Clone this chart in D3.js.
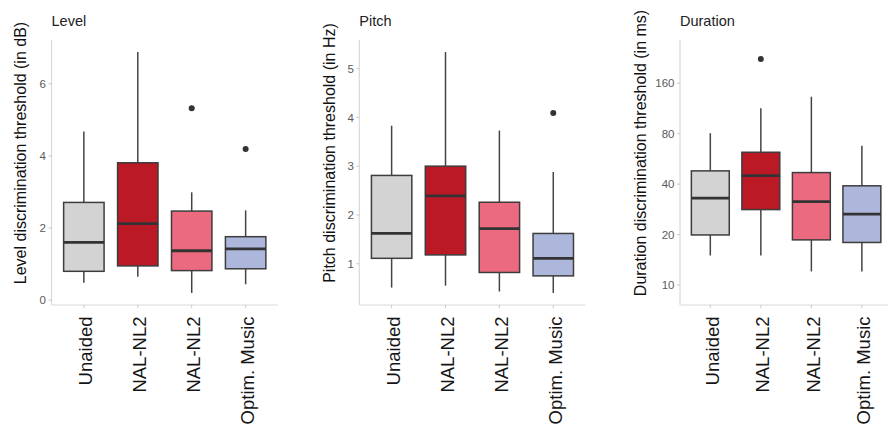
<!DOCTYPE html>
<html>
<head>
<meta charset="utf-8">
<script src="https://cdn.jsdelivr.net/npm/d3@7"></script>
<style>
  html, body { margin: 0; padding: 0; background: #ffffff; }
  svg { display: block; font-family: "Liberation Sans", Arial, Helvetica, sans-serif; }
</style>
</head>
<body>
<svg id="chart" width="888" height="425"></svg>
<script>
// Hearing-aid fitting conditions (x categories)
const conditions = ["Unaided", "NAL-NL2", "NAL-NL2", "Optim. Music"];
const fillColors = ["#d3d3d3", "#bb1926", "#ec6a80", "#adb7dc"];

// Box statistics per condition: [lower whisker, Q1, median, Q3, upper whisker]
const levelStats = [
  [0.48, 0.80, 1.60, 2.71, 4.68],
  [0.65, 0.95, 2.12, 3.81, 6.88],
  [0.20, 0.82, 1.37, 2.47, 2.99],
  [0.44, 0.87, 1.42, 1.76, 2.49]
];
const levelOutliers = [[], [], [5.32], [4.19]];
const levelTicks = [0, 2, 4, 6];

const pitchStats = [
  [0.51, 1.11, 1.62, 2.81, 3.83],
  [0.55, 1.18, 2.39, 3.00, 5.34],
  [0.43, 0.82, 1.72, 2.26, 3.73],
  [0.40, 0.75, 1.11, 1.62, 2.88]
];
const pitchOutliers = [[], [], [], [4.09]];
const pitchTicks = [1, 2, 3, 4, 5];

const durationStats = [
  [15.0, 19.9, 33.0, 48.0, 80.6],
  [15.0, 28.2, 45.0, 62.0, 113.5],
  [12.05, 18.6, 31.5, 46.9, 133.0],
  [12.05, 17.95, 26.5, 39.1, 67.7]
];
const durationOutliers = [[], [223], [], []];
const durationTicks = [10, 20, 40, 80, 160];
const durationDomain = [7.6, 290];

const svg = d3.select("#chart");
const panelTop = 40, panelBottom = 305;

function padded(stats, outliers) {
  const vals = stats.flat().concat(outliers.flat());
  const lo = d3.min(vals), hi = d3.max(vals), r = hi - lo;
  return [lo - 0.05 * r, hi + 0.05 * r];
}

function drawPanel(cfg) {
  const g = svg.append("g");
  const x = d3.scaleBand()
    .domain(d3.range(conditions.length))
    .range([cfg.x0, cfg.x1])
    .paddingInner(0)
    .paddingOuter(0.1);
  const y = cfg.y;
  const bw = x.step() * 0.75;

  // axis lines
  g.append("line").attr("x1", cfg.x0).attr("x2", cfg.x0)
    .attr("y1", panelTop).attr("y2", panelBottom)
    .attr("stroke", "#d9d9d9").attr("stroke-width", 1.2);
  g.append("line").attr("x1", cfg.x0).attr("x2", cfg.x1)
    .attr("y1", panelBottom).attr("y2", panelBottom)
    .attr("stroke", "#d9d9d9").attr("stroke-width", 1.2);

  // y ticks
  const yt = g.selectAll(".yt").data(cfg.ticks).enter().append("g");
  yt.append("line")
    .attr("x1", cfg.x0 - 3).attr("x2", cfg.x0)
    .attr("y1", d => y(d)).attr("y2", d => y(d))
    .attr("stroke", "#c8c8c8").attr("stroke-width", 1);
  yt.append("text")
    .attr("x", cfg.x0 - 5.5).attr("y", d => y(d)).attr("dy", "0.36em")
    .attr("text-anchor", "end")
    .attr("font-size", 11.5).attr("fill", "#5a5a5a")
    .text(d => d);

  // x ticks and rotated labels
  const cx = i => x(i) + x.bandwidth() / 2;
  const xt = g.selectAll(".xt").data(conditions).enter().append("g");
  xt.append("line")
    .attr("x1", (d, i) => cx(i)).attr("x2", (d, i) => cx(i))
    .attr("y1", panelBottom).attr("y2", panelBottom + 3)
    .attr("stroke", "#c8c8c8").attr("stroke-width", 1);
  xt.append("text")
    .attr("transform", (d, i) => `translate(${cx(i)},316.5) rotate(-90)`)
    .attr("dy", "0.46em")
    .attr("text-anchor", "end")
    .attr("font-size", 18.5).attr("fill", "#151515")
    .text(d => d);

  // whiskers
  cfg.stats.forEach((s, i) => {
    const c = cx(i);
    g.append("line").attr("x1", c).attr("x2", c)
      .attr("y1", y(s[0])).attr("y2", y(s[1]))
      .attr("stroke", "#444444").attr("stroke-width", 1.5);
    g.append("line").attr("x1", c).attr("x2", c)
      .attr("y1", y(s[3])).attr("y2", y(s[4]))
      .attr("stroke", "#444444").attr("stroke-width", 1.5);
  });

  // boxes
  g.selectAll(".box").data(cfg.stats).enter().append("rect")
    .attr("x", (d, i) => cx(i) - bw / 2)
    .attr("width", bw)
    .attr("y", d => y(d[3]))
    .attr("height", d => y(d[1]) - y(d[3]))
    .attr("fill", (d, i) => fillColors[i])
    .attr("stroke", "#3d3d3d").attr("stroke-width", 1.5);

  // medians
  g.selectAll(".med").data(cfg.stats).enter().append("line")
    .attr("x1", (d, i) => cx(i) - bw / 2).attr("x2", (d, i) => cx(i) + bw / 2)
    .attr("y1", d => y(d[2])).attr("y2", d => y(d[2]))
    .attr("stroke", "#333333").attr("stroke-width", 2.8);

  // outliers
  cfg.outliers.forEach((arr, i) => {
    arr.forEach(v => {
      g.append("circle").attr("cx", cx(i)).attr("cy", y(v)).attr("r", 3)
        .attr("fill", "#333333");
    });
  });

  // panel title
  g.append("text").attr("x", cfg.x0).attr("y", 26)
    .attr("font-size", 14.5).attr("fill", "#222222")
    .text(cfg.title);

  // y-axis title
  g.append("text")
    .attr("transform", `translate(${cfg.ytx},153) rotate(-90)`)
    .attr("dy", "0.36em")
    .attr("text-anchor", "middle")
    .attr("font-size", 16).attr("fill", "#111111")
    .text(cfg.ytitle);
}

drawPanel({
  title: "Level",
  ytitle: "Level discrimination threshold (in dB)",
  x0: 51.5, x1: 278, ytx: 20,
  y: d3.scaleLinear().domain(padded(levelStats, levelOutliers)).range([panelBottom, panelTop]),
  ticks: levelTicks, stats: levelStats, outliers: levelOutliers
});

drawPanel({
  title: "Pitch",
  ytitle: "Pitch discrimination threshold (in Hz)",
  x0: 359.3, x1: 585.6, ytx: 329,
  y: d3.scaleLinear().domain(padded(pitchStats, pitchOutliers)).range([panelBottom, panelTop]),
  ticks: pitchTicks, stats: pitchStats, outliers: pitchOutliers
});

drawPanel({
  title: "Duration",
  ytitle: "Duration discrimination threshold (in ms)",
  x0: 680, x1: 892.2, ytx: 640,
  y: d3.scaleLog().base(2).domain(durationDomain).range([panelBottom, panelTop]),
  ticks: durationTicks, stats: durationStats, outliers: durationOutliers
});
</script>
</body>
</html>
